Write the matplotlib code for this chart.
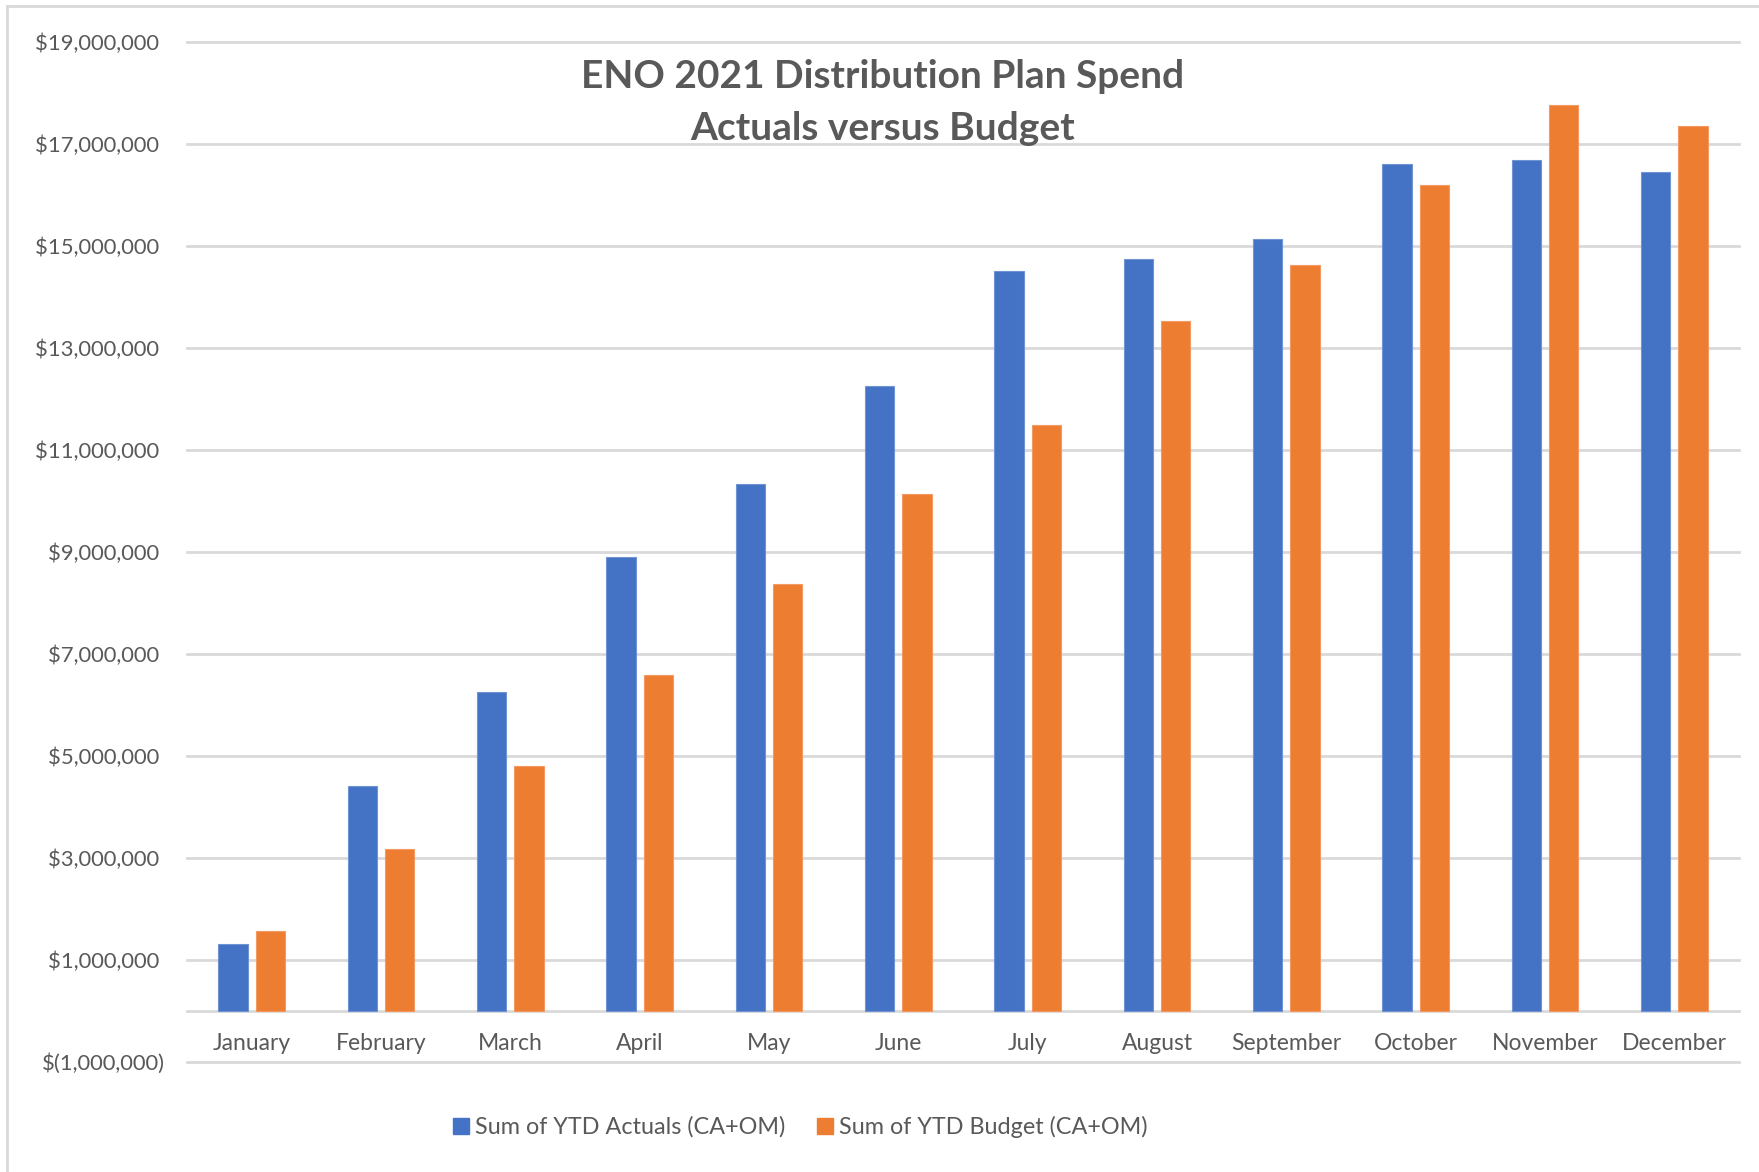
import matplotlib
matplotlib.use("Agg")
import matplotlib.pyplot as plt
from matplotlib.lines import Line2D
from matplotlib.ticker import FuncFormatter, FixedLocator

months = ["January", "February", "March", "April", "May", "June", "July",
          "August", "September", "October", "November", "December"]
ytd_actuals = [1.31e6, 4.41e6, 6.26e6, 8.90e6, 10.33e6, 12.25e6, 14.51e6,
               14.75e6, 15.13e6, 16.60e6, 16.69e6, 16.45e6]
ytd_budget = [1.57e6, 3.18e6, 4.81e6, 6.59e6, 8.37e6, 10.13e6, 11.50e6,
              13.52e6, 14.62e6, 16.20e6, 17.77e6, 17.35e6]
series_names = ["Sum of YTD Actuals (CA+OM)", "Sum of YTD Budget (CA+OM)"]
y_ticks = [-1e6, 1e6, 3e6, 5e6, 7e6, 9e6, 11e6, 13e6, 15e6, 17e6, 19e6]
title_lines = ["ENO 2021 Distribution Plan Spend", "Actuals versus Budget"]

BLUE = "#4472C4"
ORANGE = "#ED7D31"
GRID = "#D9D9D9"
TXT = "#595959"

plt.rcParams['font.family'] = ['Lato', 'DejaVu Sans']

W, H = 1759, 1172
fig = plt.figure(figsize=(W / 100, H / 100), dpi=100)
fig.patch.set_facecolor("white")

left, right = 187 / W, 1739 / W
top, bottom = 1 - 42 / H, 1 - 1062 / H
ax = fig.add_axes([left, bottom, right - left, top - bottom])

n = len(months)
x = list(range(n))
bw = 0.228
off = 0.144
ax.bar([i - off for i in x], ytd_actuals, width=bw, color=BLUE,
       edgecolor="#6F93D3", linewidth=0.8, zorder=3, label=series_names[0])
ax.bar([i + off for i in x], ytd_budget, width=bw, color=ORANGE,
       edgecolor="#F29A62", linewidth=0.8, zorder=3, label=series_names[1])

ax.set_xlim(-0.5, n - 0.5)
ax.set_ylim(-1e6, 19e6)
ax.yaxis.set_major_locator(FixedLocator(y_ticks))


def fmt(v, pos):
    if v < 0:
        return "$({:,.0f})".format(-v)
    return "${:,.0f} ".format(v)


ax.yaxis.set_major_formatter(FuncFormatter(fmt))
ax.grid(axis="y", color=GRID, linewidth=2, zorder=0)
for gl in ax.get_ygridlines():
    gl.set_clip_on(False)
ax.set_axisbelow(True)

for s in ["top", "right", "left"]:
    ax.spines[s].set_visible(False)
ax.spines["bottom"].set_position(("data", 0))
ax.spines["bottom"].set_color(GRID)
ax.spines["bottom"].set_linewidth(2)
ax.spines["bottom"].set_zorder(2)

ax.set_xticks(x)
ax.set_xticklabels(months)
ax.tick_params(axis="x", length=0, pad=15.5, labelsize=16.5, labelcolor=TXT)
ax.tick_params(axis="y", length=0, pad=16, labelsize=15.8, labelcolor=TXT)

fig.text(883 / W, 1 - 77 / H, title_lines[0], ha="center", va="center",
         fontsize=28, fontweight="bold", color=TXT)
fig.text(883 / W, 1 - 129 / H, title_lines[1], ha="center", va="center",
         fontsize=28, fontweight="bold", color=TXT)

handles = [Line2D([], [], marker="s", linestyle="none", markersize=11.5,
                  markerfacecolor=c, markeredgecolor=c) for c in (BLUE, ORANGE)]
fig.legend(handles, series_names, loc="center", bbox_to_anchor=(801 / W, 1 - 1127 / H),
           ncol=2, frameon=False, fontsize=16.8, labelcolor=TXT,
           handlelength=0.6, handletextpad=0.3, columnspacing=1.4)

# outer chart frame (left and top edges visible)
fig.add_artist(Line2D([7 / W, 7 / W], [0, 1 - 6 / H], transform=fig.transFigure,
                      color=GRID, linewidth=2))
fig.add_artist(Line2D([7 / W, 1], [1 - 6 / H, 1 - 6 / H], transform=fig.transFigure,
                      color=GRID, linewidth=2))

fig.savefig("out.png", dpi=100)
